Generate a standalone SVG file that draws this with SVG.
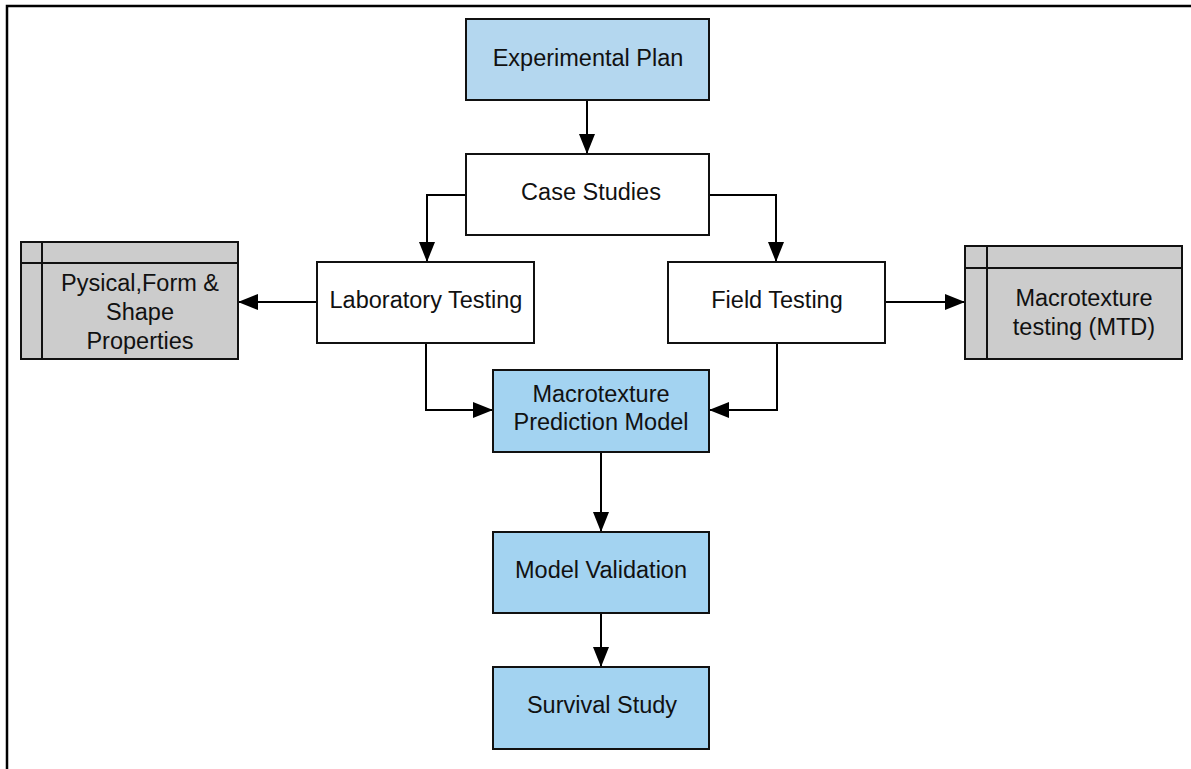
<svg xmlns="http://www.w3.org/2000/svg" width="1191" height="769" viewBox="0 0 1191 769">
<defs>
<marker id="ah" viewBox="0 0 20 16" refX="20" refY="8" markerWidth="20" markerHeight="16" markerUnits="userSpaceOnUse" orient="auto">
<path d="M0,0 L20,8 L0,16 Z" fill="#000"/>
</marker>
</defs>
<style>
.box{stroke:#111;stroke-width:2}
.blue{fill:#a3d3f1}
.blue2{fill:#b4d7ef}
.white{fill:#fff}
.gray{fill:#cccccc}
.t{font-family:"Liberation Sans",Arial,sans-serif;font-size:23.5px;fill:#111;text-anchor:middle}
.c{fill:none;stroke:#000;stroke-width:2}
</style>
<rect width="1191" height="769" fill="#fff"/>
<path d="M7,769 V6 H1191" fill="none" stroke="#000" stroke-width="2.5"/>
<g id="connectors">
<path class="c" d="M587,100 V154" marker-end="url(#ah)"/>
<path class="c" d="M466,195 H427 V262" marker-end="url(#ah)"/>
<path class="c" d="M709,195 H776 V262" marker-end="url(#ah)"/>
<path class="c" d="M317,302 H238" marker-end="url(#ah)"/>
<path class="c" d="M885,302 H965" marker-end="url(#ah)"/>
<path class="c" d="M426,343 V410 H493" marker-end="url(#ah)"/>
<path class="c" d="M777,343 V410 H709" marker-end="url(#ah)"/>
<path class="c" d="M601,452 V532" marker-end="url(#ah)"/>
<path class="c" d="M601,613 V667" marker-end="url(#ah)"/>
</g>
<g id="experimental-plan">
<rect class="box blue2" x="466" y="19" width="243" height="81"/>
<text class="t" x="588" y="65.5">Experimental Plan</text>
</g>
<g id="case-studies">
<rect class="box white" x="466" y="154" width="243" height="81"/>
<text class="t" x="591" y="200">Case Studies</text>
</g>
<g id="laboratory-testing">
<rect class="box white" x="317" y="262" width="217" height="81"/>
<text class="t" x="426" y="308">Laboratory Testing</text>
</g>
<g id="field-testing">
<rect class="box white" x="668" y="262" width="217" height="81"/>
<text class="t" x="777" y="308">Field Testing</text>
</g>
<g id="physical-properties">
<rect class="box gray" x="21" y="242" width="217" height="117"/>
<path class="box" d="M42,242 V359 M21,263 H238" fill="none"/>
<text class="t" x="140" y="290.5">Pysical,Form &amp;</text>
<text class="t" x="140" y="319.5">Shape</text>
<text class="t" x="140" y="348.5">Properties</text>
</g>
<g id="macrotexture-testing">
<rect class="box gray" x="965" y="246" width="217" height="113"/>
<path class="box" d="M987,246 V359 M965,268 H1182" fill="none"/>
<text class="t" x="1084" y="305.5">Macrotexture</text>
<text class="t" x="1084" y="334.5">testing (MTD)</text>
</g>
<g id="prediction-model">
<rect class="box blue" x="493" y="370" width="216" height="82"/>
<text class="t" x="601" y="401.5">Macrotexture</text>
<text class="t" x="601" y="430">Prediction Model</text>
</g>
<g id="model-validation">
<rect class="box blue" x="493" y="532" width="216" height="81"/>
<text class="t" x="601" y="578">Model Validation</text>
</g>
<g id="survival-study">
<rect class="box blue" x="493" y="667" width="216" height="82"/>
<text class="t" x="602" y="713">Survival Study</text>
</g>
</svg>
